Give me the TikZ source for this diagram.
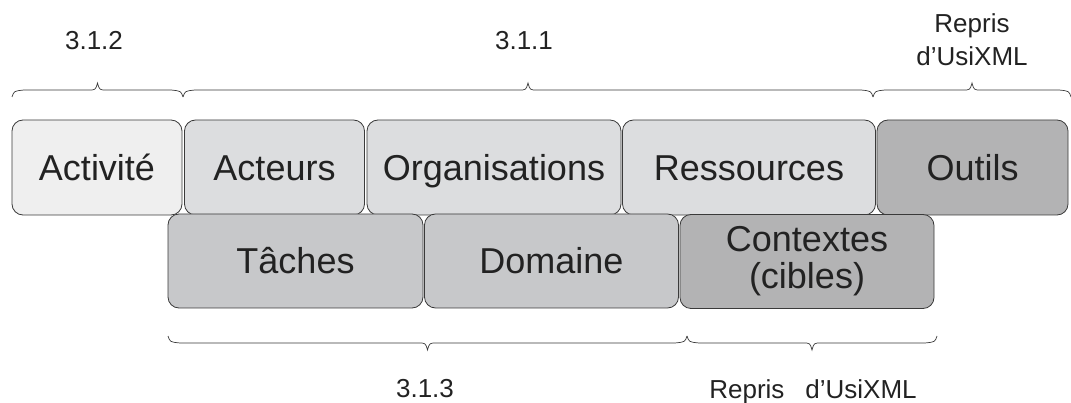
\documentclass[tikz,border=0pt]{standalone}
\usepackage{fontspec}
\setmainfont{Liberation Sans}
\definecolor{fA}{HTML}{EFEFEF}
\definecolor{fB}{HTML}{DCDDDF}
\definecolor{fC}{HTML}{C7C8CA}
\definecolor{fD}{HTML}{B3B3B4}
\definecolor{edge}{HTML}{3A3A3A}
\definecolor{txt}{HTML}{222222}
\newcommand\mytopbrace[3]{% x1, x2, y
  \pgfmathsetmacro\xm{(#1+#2)/2}
  \draw[bracestyle] (#1,#3+7) .. controls (#1+2,#3+1) .. (#1+12,#3)
    -- (\xm-9,#3) .. controls (\xm-2,#3) .. (\xm,#3-7)
    .. controls (\xm+2,#3) .. (\xm+9,#3)
    -- (#2-12,#3) .. controls (#2-2,#3+1) .. (#2,#3+7);}
\newcommand\mybotbrace[3]{% x1, x2, y
  \pgfmathsetmacro\xm{(#1+#2)/2}
  \draw[bracestyle] (#1,#3-7) .. controls (#1+2,#3-1) .. (#1+12,#3)
    -- (\xm-9,#3) .. controls (\xm-2,#3) .. (\xm,#3+7)
    .. controls (\xm+2,#3) .. (\xm+9,#3)
    -- (#2-12,#3) .. controls (#2-2,#3-1) .. (#2,#3-7);}
\begin{document}
\begin{tikzpicture}[x=1pt,y=-1pt,
  box/.style={draw=edge, line width=0.8pt, rounded corners=11pt, text=txt,
    font=\fontsize{36}{37}\selectfont, align=center, inner sep=0pt},
  oneline/.style={text height=25.8pt, text depth=0pt},
  lab/.style={text=txt, font=\fontsize{26}{33}\selectfont, align=center, inner sep=0pt},
  labline/.style={text height=18.6pt, text depth=0pt},
  bracestyle/.style={draw=edge, line width=0.7pt}]
\useasboundingbox (0,0) rectangle (1071,403);
% top row
\node[box, oneline, fill=fA, minimum width=170pt, minimum height=95pt] (act) at (97,167.5) {Activité};
\node[box, oneline, fill=fB, minimum width=180pt, minimum height=95pt] (acteurs) at (274.5,167.5) {Acteurs};
\node[box, oneline, fill=fB, minimum width=254pt, minimum height=95pt] (orga) at (494,167.5) {Organisations};
\node[box, oneline, fill=fB, minimum width=253pt, minimum height=95pt] (res) at (749,167.5) {Ressources};
\node[box, oneline, fill=fD, minimum width=191pt, minimum height=95pt] (outils) at (972.5,167.5) {Outils};
% bottom row
\node[box, oneline, fill=fC, minimum width=255pt, minimum height=94pt] (taches) at (295.5,261) {Tâches};
\node[box, oneline, fill=fC, minimum width=254pt, minimum height=94pt] (domaine) at (551.5,261) {Domaine};
\node[box, fill=fD, minimum width=254pt, minimum height=94pt] (ctx) at (807,261.5) {Contextes\\(cibles)};
% braces
\mytopbrace{12}{183}{90}
\mytopbrace{183}{873}{90}
\mytopbrace{873}{1071}{90}
\mybotbrace{168}{687}{343}
\mybotbrace{687}{937}{343}
% labels
\node[lab, labline] (l312) at (94,40) {3.1.2};
\node[lab, labline] (l311) at (524,40) {3.1.1};
\node[lab] (lrep1) at (972,40) {Repris\\d’UsiXML};
\node[lab, labline] (l313) at (425,388) {3.1.3};
\node[lab, labline] (lrep2) at (813,389) {Repris\hspace{21pt}d’UsiXML};
\end{tikzpicture}
\end{document}
